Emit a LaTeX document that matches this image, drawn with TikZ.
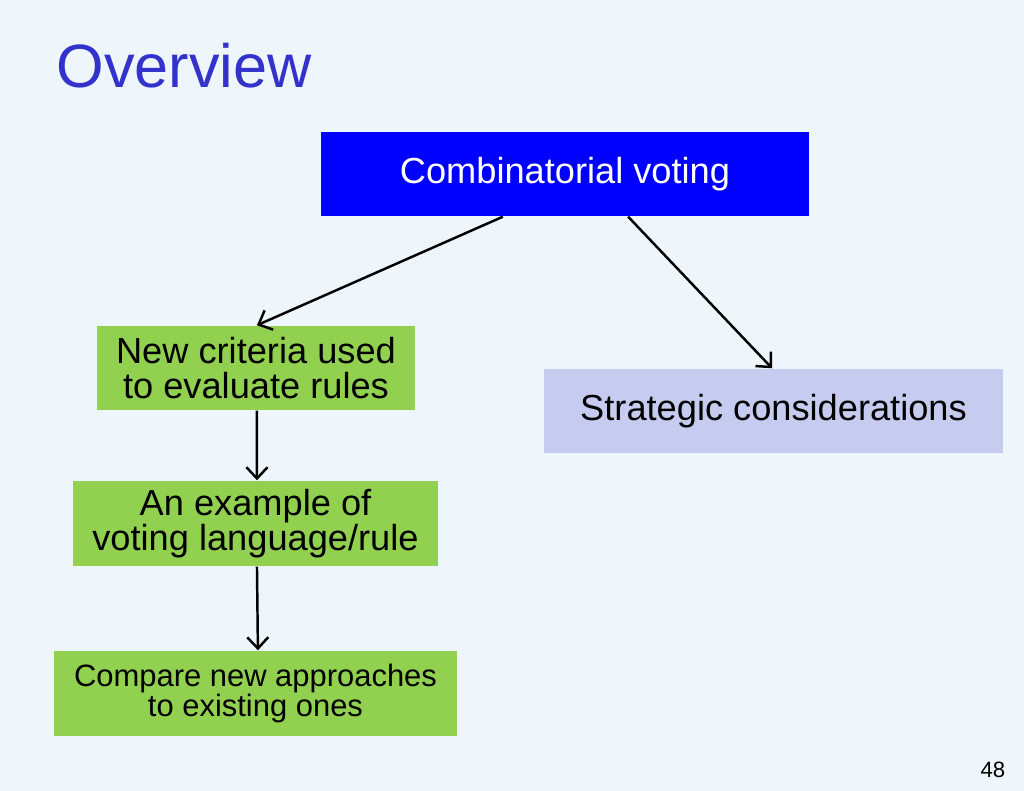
\documentclass[tikz,border=0pt]{standalone}
\usepackage{fontspec}
\setmainfont{Liberation Sans}
\usetikzlibrary{arrows.meta,calc}
\definecolor{slidebg}{HTML}{EEF6FC}
\definecolor{titleblue}{HTML}{3333CC}
\definecolor{boxblue}{HTML}{0000FF}
\definecolor{boxgreen}{HTML}{92D050}
\definecolor{boxlilac}{HTML}{C5CCF0}
\begin{document}
\begin{tikzpicture}[x=0.01cm,y=-0.01cm,
    topic/.style={fill=boxgreen, inner sep=0pt, align=center, font=\fontsize{10.3}{10}\selectfont},
    link/.style={line width=0.7pt, -{Straight Barb[length=3.2pt,width=6pt]}}]
                % Background of the slide
                \fill[slidebg] (0,0) rectangle (1024,791);
                \useasboundingbox (0,0) rectangle (1024,791);

                % Title
                \node[anchor=base west, inner sep=0pt, text=titleblue, font=\fontsize{17.4}{20}\selectfont] (title) at (56,88) {Overview};

                % Boxes
                \node[fill=boxblue, text=white, minimum width=4.88cm, minimum height=0.84cm, inner sep=0pt, font=\fontsize{10.3}{10}\selectfont] (combo) at (565,174) {\raisebox{-1.5pt}{Combinatorial voting}};
                \node[topic, minimum width=3.18cm, minimum height=0.84cm] (criteria) at (256,368) {New criteria used\\to evaluate rules};
                \node[fill=boxlilac, minimum width=4.59cm, minimum height=0.84cm, inner sep=0pt, font=\fontsize{10.3}{10}\selectfont] (strategic) at (773.5,411) {Strategic considerations};
                \node[topic, minimum width=3.65cm, minimum height=0.85cm] (example) at (255.5,523.5) {An example of\\voting language/rule};
                \node[topic, minimum width=4.03cm, minimum height=0.85cm, font=\fontsize{8.8}{8.8}\selectfont] (compare) at (255.5,693.5) {Compare new approaches\\to existing ones};

                % Arrows
                \draw[link] ($(combo.south west)!0.373!(combo.south east)$) -- ($(criteria.north west)!0.503!(criteria.north east)$);
                \draw[link] ($(combo.south west)!0.629!(combo.south east)$) -- ($(strategic.north west)!0.497!(strategic.north east)$);
                \draw[link] ($(criteria.south west)!0.503!(criteria.south east)$) -- ($(example.north west)!0.504!(example.north east)$);
                \draw[link] ($(example.south west)!0.504!(example.south east)$) -- ($(compare.north west)!0.506!(compare.north east)$);

                % Slide number
                \node[anchor=base east, inner sep=0pt, font=\fontsize{6.3}{7}\selectfont] (number) at (1006,777) {48};
            \end{tikzpicture}
\end{document}
